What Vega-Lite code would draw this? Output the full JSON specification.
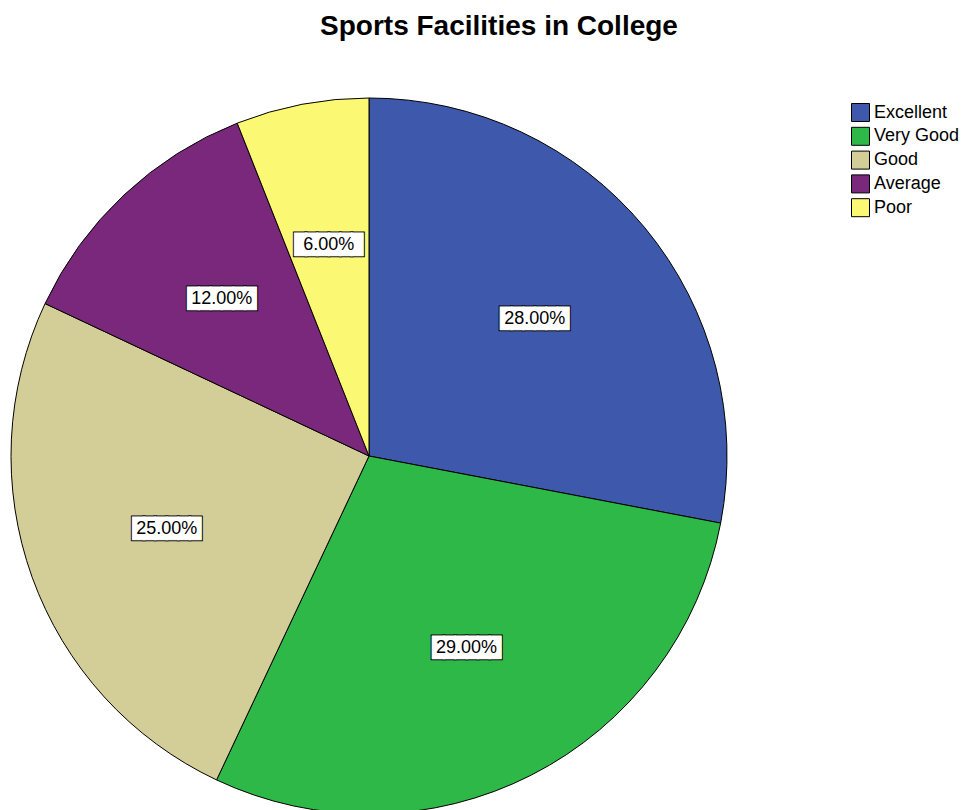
{
  "$schema": "https://vega.github.io/schema/vega-lite/v6.json",
  "autosize": "none",
  "width": 738,
  "height": 716,
  "padding": {"left": 0, "top": 98, "right": 234, "bottom": 0},
  "background": "#ffffff",
  "title": {
    "text": "Sports Facilities in College",
    "font": "Liberation Sans",
    "fontSize": 28,
    "fontWeight": "bold",
    "color": "#000000",
    "anchor": "middle",
    "frame": "group",
    "dx": 130,
    "offset": 33,
    "baseline": "alphabetic"
  },
  "data": {
    "values": [
      {"category": "Excellent", "pct": 28, "label": "28.00%", "idx": 1},
      {"category": "Very Good", "pct": 29, "label": "29.00%", "idx": 2},
      {"category": "Good", "pct": 25, "label": "25.00%", "idx": 3},
      {"category": "Average", "pct": 12, "label": "12.00%", "idx": 4},
      {"category": "Poor", "pct": 6, "label": "6.00%", "idx": 5}
    ]
  },
  "encoding": {
    "theta": {"field": "pct", "type": "quantitative", "stack": true},
    "order": {"field": "idx", "type": "quantitative"}
  },
  "layer": [
    {
      "mark": {"type": "arc", "outerRadius": 358, "stroke": "#000000", "strokeWidth": 1},
      "encoding": {
        "color": {
          "field": "category",
          "type": "nominal",
          "scale": {
            "domain": ["Excellent", "Very Good", "Good", "Average", "Poor"],
            "range": ["#3E58AB", "#2EB848", "#D3CE98", "#7A287B", "#FBF873"]
          },
          "legend": {
            "orient": "none",
            "legendX": 851,
            "legendY": 5,
            "title": null,
            "padding": 0,
            "symbolType": "square",
            "symbolSize": 324,
            "symbolStrokeColor": "#000000",
            "symbolStrokeWidth": 1,
            "symbolOpacity": 1,
            "labelFont": "Liberation Sans",
            "labelFontSize": 18,
            "labelColor": "#000000",
            "labelOffset": 4,
            "rowPadding": 0.8
          }
        }
      }
    },
    {
      "mark": {"type": "text", "radius": 215, "text": "██████", "font": "DejaVu Sans Mono", "fontSize": 19, "fill": "#000000", "stroke": "#000000", "strokeWidth": 3, "baseline": "middle", "align": "center"},
      "encoding": {"detail": {"field": "category", "type": "nominal"}}
    },
    {
      "mark": {"type": "text", "radius": 215, "text": "██████", "font": "DejaVu Sans Mono", "fontSize": 19, "fill": "#ffffff", "stroke": "#ffffff", "strokeWidth": 1, "baseline": "middle", "align": "center"},
      "encoding": {"detail": {"field": "category", "type": "nominal"}}
    },
    {
      "mark": {"type": "text", "radius": 215, "font": "Liberation Sans", "fontSize": 18, "fill": "#000000", "baseline": "middle", "align": "center"},
      "encoding": {
        "text": {"field": "label", "type": "nominal"},
        "detail": {"field": "category", "type": "nominal"}
      }
    }
  ]
}
